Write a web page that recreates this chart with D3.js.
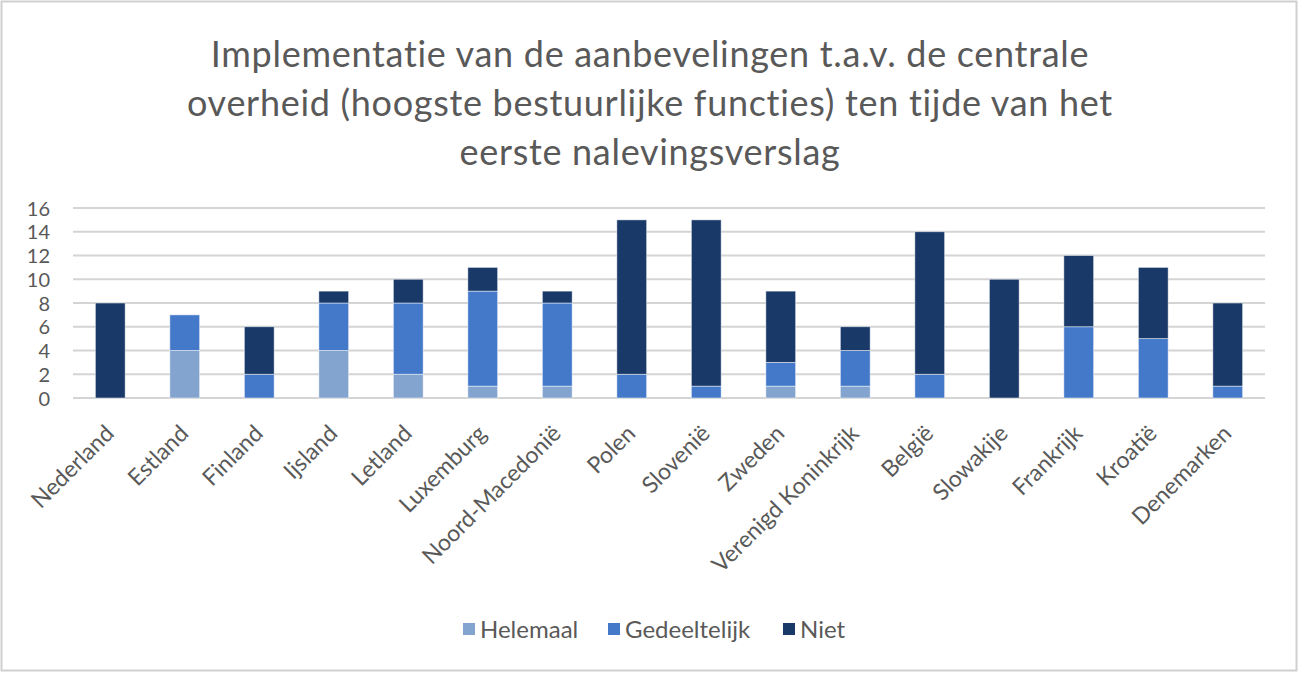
<!DOCTYPE html>
<html><head><meta charset="utf-8">
<script src="https://cdn.jsdelivr.net/npm/d3@7"></script>
<style>
body{margin:0;background:#fff;}
svg{display:block;font-family:Lato,"Open Sans",sans-serif;}
</style></head>
<body><svg id="c" width="1299" height="673"></svg>
<script>
const titleLines = ["Implementatie van de aanbevelingen t.a.v. de centrale","overheid (hoogste bestuurlijke functies) ten tijde van het","eerste nalevingsverslag"];
const categories = ["Nederland","Estland","Finland","Ijsland","Letland","Luxemburg","Noord-Macedonië","Polen","Slovenië","Zweden","Verenigd Koninkrijk","België","Slowakije","Frankrijk","Kroatië","Denemarken"];
const seriesNames = ["Helemaal","Gedeeltelijk","Niet"];
const helemaal     = [0,4,0,4,2,1,1,0,0,1,1,0,0,0,0,0];
const gedeeltelijk = [0,3,2,4,6,8,7,2,1,2,3,2,0,6,5,1];
const niet         = [8,0,4,1,2,2,1,13,14,6,2,12,10,6,6,7];
const yTicks = [0,2,4,6,8,10,12,14,16];
const colors = ["#82a4ce","#4479ca","#193a69"];

const svg = d3.select("#c");
svg.append("rect").attr("x",1.5).attr("y",1.5).attr("width",1295).attr("height",669)
  .attr("fill","#fff").attr("stroke","#d0d0d0").attr("stroke-width",2);

const x = d3.scaleBand().domain(categories).range([73,1265]).paddingInner(0.6).paddingOuter(0.3);
const y = d3.scaleLinear().domain([0,16]).range([398,208]);

// title
svg.append("g").selectAll("text").data(titleLines).join("text")
  .attr("x",650).attr("y",(d,i)=>67+i*49)
  .attr("text-anchor","middle").attr("font-size",36).attr("letter-spacing",0.7)
  .attr("fill","#595959").text(d=>d);

// grid
svg.append("g").selectAll("line").data(yTicks).join("line")
  .attr("x1",73).attr("x2",1265).attr("y1",d=>y(d)).attr("y2",d=>y(d))
  .attr("stroke","#d4d4d4").attr("stroke-width",2);

// y labels
const yAxis = d3.axisLeft(y).tickValues(yTicks).tickSize(0).tickPadding(0);
const gy = svg.append("g").attr("transform","translate(50,0)").call(yAxis);
gy.select(".domain").remove();
gy.selectAll("text").attr("font-size",20).attr("fill","#595959").attr("font-family","Lato,sans-serif").attr("dy","0.36em");

// stacked data
const rows = categories.map((c,i)=>({cat:c, Helemaal:helemaal[i], Gedeeltelijk:gedeeltelijk[i], Niet:niet[i]}));
const stack = d3.stack().keys(seriesNames)(rows);
svg.append("g").selectAll("g").data(stack).join("g").attr("fill",(d,i)=>colors[i])
  .selectAll("rect").data(d=>d.filter(p=>p[1]>p[0])).join("rect")
  .attr("x",d=>x(d.data.cat)).attr("width",x.bandwidth())
  .attr("y",d=>y(d[1])).attr("height",d=>y(d[0])-y(d[1]))
  .attr("stroke","#ffffff").attr("stroke-opacity",0.6).attr("stroke-width",0.8);

// x labels
const gx = svg.append("g").attr("transform","translate(0,398)").call(d3.axisBottom(x).tickSize(0).tickPadding(0));
gx.select(".domain").remove();
gx.selectAll("text").attr("font-size",23).attr("fill","#595959").attr("font-family","Lato,sans-serif")
  .attr("text-anchor","end").attr("dy",0)
  .attr("transform","translate(5,37) rotate(-45)");

// legend
const legX = [463,608,783];
const leg = svg.append("g").selectAll("g").data(seriesNames).join("g")
  .attr("transform",(d,i)=>`translate(${legX[i]},629)`);
leg.append("rect").attr("x",0).attr("y",-6).attr("width",12).attr("height",12).attr("fill",(d,i)=>colors[i]);
leg.append("text").attr("x",17).attr("y",0).attr("dy","0.36em").attr("font-size",24).attr("fill","#595959").text(d=>d);
</script></body></html>
